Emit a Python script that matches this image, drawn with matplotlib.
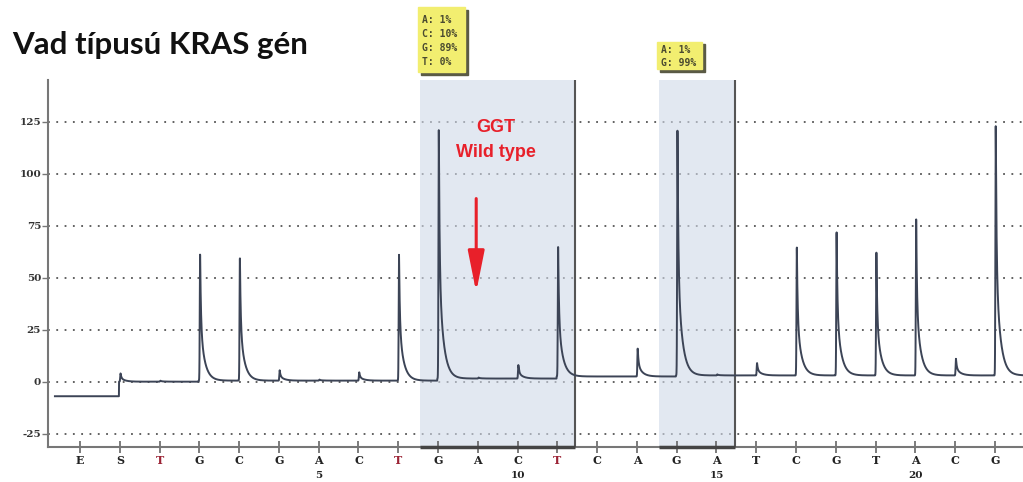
import numpy as np
import matplotlib
matplotlib.use("Agg")
import matplotlib.pyplot as plt
from matplotlib.patches import Rectangle

# ---- data ----
dispensation = list("ESTGCGACTGACTCAGATCGTACG")
positions = list(range(1, 25))
peak_tops = [-7, 4, 0.5, 62, 60, 5.5, 1, 4.5, 61, 121, 2, 8, 65, 2.5,
             16, 122, 3.5, 9, 65, 72, 62, 78, 11, 123]
baseline = [-7, 0, 0, 0.5, 0.5, 0.5, 0.5, 0.5, 0.5, 1.5, 1.5, 1.5, 2.5, 2.5,
            2.5, 3, 3, 3, 3, 3, 3, 3, 3, 3]
red_T = [3, 9, 13]
number_ticks = [7, 12, 17, 22]
number_labels = ["5", "10", "15", "20"]
y_ticks = [125, 100, 75, 50, 25, 0, -25]
regions = [(9.547, 13.44), (15.555, 17.466)]
box1_lines = ["A: 1%", "C: 10%", "G: 89%", "T: 0%"]
box2_lines = ["A: 1%", "G: 99%"]

W, H = 1023, 482
fig = plt.figure(figsize=(W / 100, H / 100), dpi=100)
ax = fig.add_axes([48 / W, 1 - 447 / H, 1 - 48 / W, (447 - 80) / H])
x_lo, x_hi = 0.196, 24.705
y_lo, y_hi = -31.4, 145
ax.set_xlim(x_lo, x_hi)
ax.set_ylim(y_lo, y_hi)

# shaded regions
for (a, b) in regions:
    ax.axvspan(a, b, color="#d0d9e8", alpha=0.6, lw=0, zorder=1)
    ax.axvline(b, color="#555555", lw=1.5, zorder=3)
    ax.plot([a, b], [y_lo, y_lo], color="#444444", lw=2.5, zorder=4,
            clip_on=False, solid_capstyle="butt")

# grid
for yv in y_ticks:
    ax.axhline(yv, color="#555555", lw=1.3, linestyle=(0, (1, 3.6)), zorder=0.5)

# trace built from peak heights
x = np.linspace(0.37, x_hi, 12000)
y = np.full_like(x, float(baseline[0]))
for i, p in enumerate(positions):
    y = np.where(x >= p - 0.02, baseline[i], y)
for p, top, base in zip(positions, peak_tops, baseline):
    h = top - base
    if h <= 0:
        continue
    dx = x - p - 0.02
    dpos = np.clip(dx, 0, None)
    shape = np.where(dx < 0, np.exp(-(dx / 0.012) ** 2),
                     0.55 * np.exp(-dpos / 0.02) + 0.45 * np.exp(-dpos / 0.11))
    y = y + h * shape
ax.plot(x, y, color="#3c4456", lw=1.4, zorder=5)

# spines / ticks
for s in ["top", "right"]:
    ax.spines[s].set_visible(False)
ax.spines["left"].set_color("#777777")
ax.spines["bottom"].set_color("#777777")
ax.spines["left"].set_linewidth(1.5)
ax.spines["bottom"].set_linewidth(1.5)

ax.set_yticks(y_ticks)
ax.set_yticklabels([str(v) for v in y_ticks], fontsize=7.5, family="DejaVu Serif",
                   fontweight="bold", color="#333333")
ax.tick_params(axis="y", length=4, width=1, color="#777777", pad=1)

ax.set_xticks(positions)
ax.set_xticklabels(dispensation, fontsize=8, family="DejaVu Serif",
                   fontweight="bold")
for p, lab in zip(positions, ax.get_xticklabels()):
    lab.set_color("#9b2335" if p in red_T else "#222222")
ax.tick_params(axis="x", direction="inout", length=9, width=1.2,
               color="#666666", pad=1)

tr = ax.get_xaxis_transform()
for p, lab in zip(number_ticks, number_labels):
    ax.text(p, -0.078, lab, transform=tr, ha="center", va="center", fontsize=7.5,
            family="DejaVu Serif", fontweight="bold", color="#222222")

# annotation
ax.text(11.45, 122, "GGT", color="#e8202a", fontsize=13, ha="center",
        va="center", family="Liberation Sans", fontweight="bold")
ax.text(11.45, 110, "Wild type", color="#e8202a", fontsize=13, ha="center",
        va="center", family="Liberation Sans", fontweight="bold")
ax.annotate("", xy=(10.96, 43), xytext=(10.96, 88),
            arrowprops=dict(arrowstyle="-|>,head_length=1.25,head_width=0.25",
                            mutation_scale=20, color="#e8202a", lw=2.2,
                            shrinkA=0, shrinkB=0), zorder=6)

# title
fig.text(12 / W, 1 - 45 / H, "Vad típusú KRAS gén", fontsize=22.5,
         fontweight="bold", family="Lato", va="center", ha="left",
         color="#111111")

# yellow boxes
def ybox(x0, y0, x1, y1, lines, ystarts):
    fig.patches.append(Rectangle((x0 / W + 2.5 / W, 1 - (y1 + 2.5) / H),
                                 (x1 - x0) / W, (y1 - y0) / H,
                                 transform=fig.transFigure, color="#5a5a45",
                                 zorder=1))
    fig.patches.append(Rectangle((x0 / W, 1 - y1 / H), (x1 - x0) / W,
                                 (y1 - y0) / H, transform=fig.transFigure,
                                 color="#f2ee70", zorder=2))
    for t, yy in zip(lines, ystarts):
        fig.text((x0 + 4) / W, 1 - yy / H, t, fontsize=7,
                 family="DejaVu Sans Mono", fontweight="bold",
                 color="#4a4a30", va="center", ha="left", zorder=3)

ybox(418, 7, 465, 72, box1_lines, [20, 34, 48, 62])
ybox(657, 42, 702, 69, box2_lines, [50, 63])

fig.savefig("out.png", dpi=100)
